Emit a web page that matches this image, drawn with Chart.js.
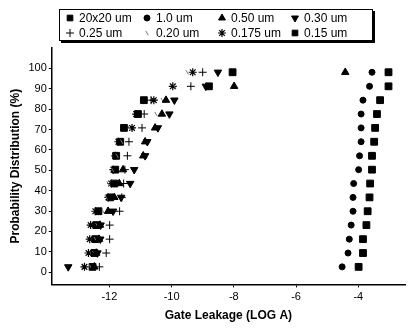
<!DOCTYPE html>
<html lang="en">
<head>
  <meta charset="UTF-8">
  <title>Gate Leakage Distribution</title>
  <script src="https://cdn.jsdelivr.net/npm/chart.js"></script>
  <style>
    html, body {
      margin: 0;
      padding: 0;
      background: #fff;
    }
    .wrap {
      position: relative;
      width: 411px;
      height: 329px;
    }
    #legend {
      position: absolute;
      left: 59px;
      top: 9px;
      width: 307px;
      height: 30px;
      padding-left: 5px;
      border: 1px solid #000;
      box-shadow: 2px 2px 0 #000;
      background: #fff;
      display: grid;
      grid-template-columns: 77px 75px 73px auto;
      grid-auto-rows: 15px;
      font-family: 'Liberation Sans', Arial, sans-serif;
      font-size: 12px;
      color: #000;
    }
    #legend .item {
      display: flex;
      align-items: center;
      white-space: nowrap;
    }
    #legend canvas {
      margin-right: 4px;
    }
  </style>
</head>
<body>
  <div class="wrap">
    <canvas id="leakageChart" width="411" height="329"></canvas>
    <div id="legend"></div>
  </div>

  <script>
    // cumulative probability of each ranked sample (%)
    const probability = [2.6, 9.4, 16.2, 23.1, 29.9, 36.7, 43.5, 50.3, 57.1, 64.0, 70.8, 77.6, 84.4, 91.2, 98.1];

    // gate leakage, log10(A), sorted low to high
    const leak20x20 = [-3.99, -3.85, -3.85, -3.74, -3.70, -3.64, -3.62, -3.56, -3.56, -3.49, -3.46, -3.40, -3.30, -3.03, -3.03];
    const leak100 = [-4.52, -4.33, -4.29, -4.23, -4.17, -4.17, -4.15, -3.99, -3.96, -3.91, -3.91, -3.91, -3.85, -3.64, -3.56];
    const leak050 = [-12.48, -12.42, -12.33, -12.30, -12.04, -11.84, -11.68, -11.56, -10.91, -10.85, -10.53, -10.31, -10.18, -7.99, -4.42];
    const leak030 = [-13.32, -12.38, -12.29, -12.28, -11.88, -11.62, -11.33, -11.20, -10.85, -10.78, -10.44, -10.07, -9.91, -8.90, -8.51];
    const leak025 = [-12.32, -12.10, -11.99, -11.99, -11.67, -11.60, -11.54, -11.50, -11.42, -11.37, -10.95, -10.88, -10.66, -9.38, -9.00];
    const leak020 = [-12.60, -12.50, -12.45, -12.40, -12.20, -12.10, -12.04, -11.90, -11.75, -11.60, -11.35, -10.50, -10.30, -9.90, -9.50];
    const leak0175 = [-12.80, -12.67, -12.63, -12.60, -12.45, -12.03, -11.94, -11.87, -11.81, -11.71, -11.27, -11.14, -10.57, -9.96, -9.32];
    const leak015 = [-12.54, -12.48, -12.45, -12.42, -12.35, -11.97, -11.84, -11.81, -11.78, -11.65, -11.53, -11.08, -10.89, -8.80, -8.04];

    const seriesNames = ['20x20 um', '1.0 um', '0.50 um', '0.30 um', '0.25 um', '0.20 um', '0.175 um', '0.15 um'];
    const seriesValues = [leak20x20, leak100, leak050, leak030, leak025, leak020, leak0175, leak015];

    const xTicks = [-12, -10, -8, -6, -4];
    const yTicks = [0, 10, 20, 30, 40, 50, 60, 70, 80, 90, 100];

    // marker look for each series, same order as seriesNames
    const markers = [
      { pointStyle: 'rect', radius: 4.8, rotation: 0, color: '#000', borderWidth: 1 },
      { pointStyle: 'circle', radius: 3, rotation: 0, color: '#000', borderWidth: 1 },
      { pointStyle: 'triangle', radius: 4.3, rotation: 0, color: '#000', borderWidth: 1 },
      { pointStyle: 'triangle', radius: 4.3, rotation: 180, color: '#000', borderWidth: 1 },
      { pointStyle: 'cross', radius: 4, rotation: 0, color: '#000', borderWidth: 1 },
      { pointStyle: 'line', radius: 2.5, rotation: 60, color: '#777', borderWidth: 1 },
      { pointStyle: 'star', radius: 4, rotation: 0, color: '#000', borderWidth: 1.2 },
      { pointStyle: 'rect', radius: 4.8, rotation: 0, color: '#000', borderWidth: 1 },
    ];

    const fontFamily = "'Liberation Sans', Arial, sans-serif";

    const datasets = seriesNames.map((name, i) => ({
      label: name,
      data: seriesValues[i].map((v, j) => ({ x: v, y: probability[j] })),
      pointStyle: markers[i].pointStyle,
      pointRadius: markers[i].radius,
      pointRotation: markers[i].rotation,
      pointBorderWidth: markers[i].borderWidth,
      backgroundColor: markers[i].color,
      borderColor: markers[i].color,
      showLine: false,
    }));

    const chart = new Chart(document.getElementById('leakageChart').getContext('2d'), {
      type: 'scatter',
      data: { datasets: datasets },
      options: {
        responsive: false,
        animation: false,
        layout: { padding: { top: 48, right: 6, left: 8, bottom: 6 } },
        plugins: {
          legend: { display: false },
          tooltip: { enabled: false },
        },
        scales: {
          x: {
            type: 'linear',
            min: -13.85,
            max: -2.5,
            afterBuildTicks: axis => { axis.ticks = xTicks.map(v => ({ value: v })); },
            grid: { drawOnChartArea: false, tickLength: 3, color: '#000' },
            border: { color: '#000', width: 1.5 },
            ticks: { color: '#000', padding: 3, font: { family: fontFamily, size: 11 } },
            title: {
              display: true,
              text: 'Gate Leakage (LOG A)',
              color: '#000',
              padding: { top: 2, bottom: 0 },
              font: { family: fontFamily, size: 12, weight: 'bold' },
            },
          },
          y: {
            type: 'linear',
            min: -6,
            max: 110,
            afterBuildTicks: axis => { axis.ticks = yTicks.map(v => ({ value: v })); },
            grid: { drawOnChartArea: false, tickLength: 3, color: '#000' },
            border: { color: '#000', width: 1.5 },
            ticks: { color: '#000', padding: 2, font: { family: fontFamily, size: 11 } },
            title: {
              display: true,
              text: 'Probability Distribution (%)',
              color: '#000',
              padding: { top: 0, bottom: 4 },
              font: { family: fontFamily, size: 12, weight: 'bold' },
            },
          },
        },
      },
    });

    // boxed legend, 4 columns x 2 rows like the original figure
    const legendBox = document.getElementById('legend');
    seriesNames.forEach((name, i) => {
      const item = document.createElement('div');
      item.className = 'item';
      const swatch = document.createElement('canvas');
      swatch.width = 10;
      swatch.height = 10;
      const sctx = swatch.getContext('2d');
      sctx.fillStyle = markers[i].color;
      sctx.strokeStyle = markers[i].color;
      sctx.lineWidth = markers[i].borderWidth;
      if (Chart.helpers && Chart.helpers.drawPoint) {
        Chart.helpers.drawPoint(sctx, {
          pointStyle: markers[i].pointStyle,
          rotation: markers[i].rotation,
          radius: Math.min(markers[i].radius, 4),
          borderWidth: markers[i].borderWidth,
        }, 5, 5);
      }
      item.appendChild(swatch);
      const label = document.createElement('span');
      label.textContent = name;
      item.appendChild(label);
      legendBox.appendChild(item);
    });
  </script>
</body>
</html>
